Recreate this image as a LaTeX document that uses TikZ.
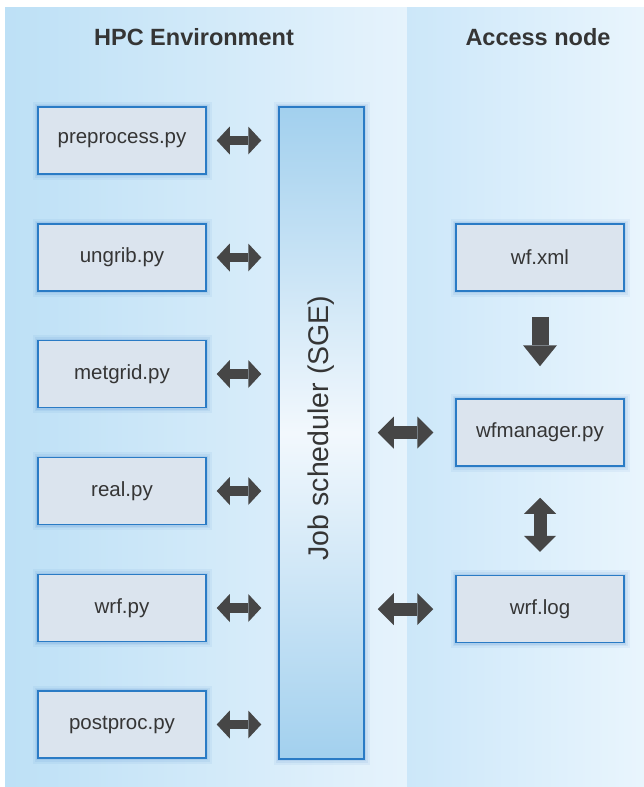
\documentclass[tikz,border=0pt]{standalone}
\usepackage{fontspec}
\setmainfont{Liberation Sans}
\usetikzlibrary{arrows.meta}

\definecolor{hpcL}{HTML}{BDE0F6}
\definecolor{hpcR}{HTML}{E6F3FC}
\definecolor{accL}{HTML}{CCE7F9}
\definecolor{accR}{HTML}{E9F5FD}
\definecolor{boxfill}{HTML}{DBE4EE}
\definecolor{boxline}{HTML}{2A7BC5}
\definecolor{glow}{HTML}{3F7FC8}
\definecolor{schedEnd}{HTML}{A2D0EE}
\definecolor{schedMid}{HTML}{F2F8FD}
\definecolor{ink}{HTML}{353535}
\definecolor{arrowgray}{HTML}{464646}

\tikzset{
  % soft bluish halo drawn beneath a box outline
  softglow/.style={
      preaction={draw=glow, line width=11pt, draw opacity=0.07},
      preaction={draw=glow, line width=7pt, draw opacity=0.09},
      preaction={draw=glow, line width=4pt, draw opacity=0.12}},
  filebox/.style={draw=boxline, fill=boxfill, line width=1.5pt,
      minimum width=168pt, minimum height=67pt, inner sep=0pt,
      text=ink, font=\fontsize{20.5}{24}\selectfont, softglow},
  header/.style={text=ink, font=\fontsize{23.5}{28}\selectfont\bfseries},
  schedbox/.style={draw=boxline, line width=1.5pt,
      top color=schedEnd, bottom color=schedEnd, middle color=schedMid,
      minimum width=85pt, minimum height=652pt, inner sep=0pt, softglow},
  linkL/.style={draw=arrowgray, line width=9.5pt,
      {Triangle[length=13pt,width=28pt,line width=0pt]}-{Triangle[length=13pt,width=28pt,line width=0pt]}},
  linkR/.style={draw=arrowgray, line width=13pt,
      {Triangle[length=16pt,width=32pt,line width=0pt]}-{Triangle[length=16pt,width=32pt,line width=0pt]}},
  flowdown/.style={draw=arrowgray, line width=17pt,
      -{Triangle[length=21pt,width=34pt,line width=0pt]}},
}

\begin{document}
\begin{tikzpicture}[x=1pt,y=-1pt]
  \useasboundingbox (0,0) rectangle (644,787);
  \fill[white] (0,0) rectangle (644,787);

  % two background panels
  \shade[left color=hpcL, right color=hpcR] (5,7) rectangle (407,787);
  \shade[left color=accL, right color=accR] (407,7) rectangle (644,787);

  \node[header] (hpc) at (194,37) {HPC Environment};
  \node[header] (acc) at (538,37) {Access node};

  % job scheduler column
  \node[schedbox] (sched) at (321.5,433) {};
  \node[text=ink, rotate=90, font=\fontsize{28.5}{32}\selectfont] (schedlbl)
      at (321.5,428) {Job scheduler (SGE)};

  % scripts run on the cluster
  \node[filebox] (pre)  at (122,140.5) {preprocess.py};
  \node[filebox] (ung)  at (122,257.5) {ungrib.py};
  \node[filebox] (met)  at (122,374)   {metgrid.py};
  \node[filebox] (real) at (122,491)   {real.py};
  \node[filebox] (wrf)  at (122,608)   {wrf.py};
  \node[filebox] (post) at (122,724.5) {postproc.py};

  % access node files
  \node[filebox] (xml) at (540,257.5) {wf.xml};
  \node[filebox] (mgr) at (540,432.5) {wfmanager.py};
  \node[filebox] (log) at (540,609)   {wrf.log};

  % scripts <-> scheduler
  \foreach \b in {pre,ung,met,real,wrf,post}
    \draw[linkL, shorten <=10pt, shorten >=17pt] (\b.east) -- (\b.east -| sched.west);

  % scheduler <-> access node
  \draw[linkR, shorten <=13pt, shorten >=22pt] (sched.east |- mgr.west) -- (mgr.west);
  \draw[linkR, shorten <=13pt, shorten >=22pt] (sched.east |- log.west) -- (log.west);

  % workflow description feeds the manager, manager <-> log
  \draw[flowdown, shorten <=25pt, shorten >=32pt] (xml.south) -- (mgr.north);
  \draw[linkR, shorten <=31pt, shorten >=23pt] (mgr.south) -- (log.north);
\end{tikzpicture}
\end{document}
